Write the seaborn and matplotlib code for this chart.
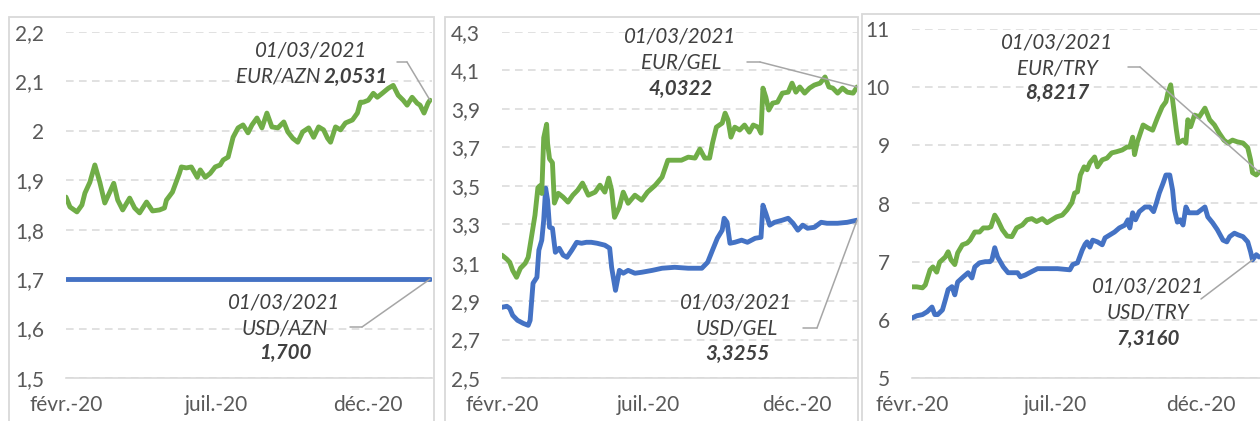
import numpy as np
import pandas as pd
import matplotlib
matplotlib.use("Agg")
import matplotlib.pyplot as plt
import matplotlib.dates as mdates
from matplotlib.ticker import FixedLocator, FuncFormatter
from matplotlib.patches import Rectangle, ConnectionPatch
from matplotlib.lines import Line2D
import seaborn as sns

START = pd.Timestamp("2020-02-01")

# --- AZN (jours depuis le 01/02/2020) ---
azn_eur_days = [0, 4, 11, 16, 19, 24, 29, 34, 39, 44, 48, 52, 57, 64, 69, 74, 81, 87, 94, 99,
                101, 107, 114, 116, 121, 126, 132, 135, 140, 145, 150, 155, 158, 163, 168, 173, 178, 183, 187, 192,
                197, 202, 207, 213, 219, 223, 228, 233, 238, 244, 249, 254, 259, 263, 266, 271, 276, 281, 288, 293,
                296, 299, 304, 309, 313, 318, 324, 329, 334, 339, 343, 348, 353, 356, 360, 364, 366]
azn_eur = [1.866, 1.846, 1.836, 1.85, 1.874, 1.896, 1.931, 1.896, 1.854, 1.876,
           1.894, 1.86, 1.84, 1.864, 1.844, 1.834, 1.856, 1.838, 1.84, 1.844,
           1.86, 1.876, 1.914, 1.927, 1.925, 1.927, 1.906, 1.921, 1.906, 1.914,
           1.927, 1.931, 1.941, 1.947, 1.987, 2.006, 2.012, 1.996, 2.012, 2.026,
           2.006, 2.036, 2.008, 2.006, 2.018, 1.998, 1.985, 1.977, 1.998, 2.006,
           1.987, 2.008, 2.002, 1.985, 1.977, 2.008, 2.002, 2.016, 2.022, 2.036,
           2.058, 2.058, 2.062, 2.076, 2.068, 2.076, 2.086, 2.092, 2.072, 2.062,
           2.052, 2.068, 2.056, 2.052, 2.036, 2.056, 2.062]
azn_usd_days = [0, 366]
azn_usd = [1.70, 1.70]

# --- GEL ---
gel_eur_days = [0, 5, 8, 11, 15, 19, 24, 27, 31, 34, 37, 39, 41, 43, 46, 47, 49, 52, 54, 58,
                63, 68, 73, 78, 83, 89, 96, 101, 106, 110, 113, 116, 121, 125, 130, 137, 144, 150, 158, 165,
                171, 178, 185, 192, 199, 204, 209, 214, 217, 221, 227, 230, 233, 236, 240, 245, 250, 255, 259, 264,
                267, 269, 272, 275, 279, 284, 289, 295, 299, 303, 307, 312, 317, 322, 328, 333, 337, 341, 346, 351,
                356, 362, 366]
gel_eur = [3.139, 3.118, 3.102, 3.060, 3.024, 3.071, 3.097, 3.128, 3.253, 3.347,
           3.49, 3.50, 3.46, 3.75, 3.82, 3.72, 3.64, 3.62, 3.41, 3.461,
           3.441, 3.415, 3.451, 3.477, 3.514, 3.451, 3.467, 3.503, 3.467, 3.540,
           3.477, 3.336, 3.389, 3.467, 3.409, 3.451, 3.425, 3.467, 3.503, 3.545,
           3.633, 3.633, 3.633, 3.649, 3.644, 3.691, 3.644, 3.644, 3.722, 3.805,
           3.826, 3.878, 3.842, 3.753, 3.805, 3.790, 3.816, 3.779, 3.816, 3.805,
           3.774, 4.008, 3.961, 3.894, 3.930, 3.935, 3.982, 3.987, 4.034, 3.987,
           4.014, 3.982, 4.008, 4.024, 4.034, 4.066, 4.014, 4.008, 3.982, 4.008,
           3.987, 3.982, 4.014]
gel_usd_days = [0, 5, 8, 11, 16, 22, 27, 29, 32, 36, 38, 41, 43, 45, 47, 49, 52, 55, 59, 63,
                67, 72, 77, 82, 87, 92, 98, 106, 111, 113, 117, 121, 125, 130, 137, 144, 155, 165, 178, 192,
                206, 212, 217, 222, 227, 229, 232, 235, 240, 247, 253, 261, 267, 269, 272, 276, 281, 289, 295, 300,
                305, 310, 315, 322, 329, 335, 346, 356, 366]
gel_usd = [2.868, 2.873, 2.862, 2.826, 2.800, 2.784, 2.774, 2.800, 2.993, 3.024,
           3.165, 3.217, 3.321, 3.488, 3.425, 3.284, 3.279, 3.154, 3.175, 3.139,
           3.128, 3.165, 3.206, 3.201, 3.206, 3.206, 3.201, 3.191, 3.175, 3.076,
           2.956, 3.060, 3.045, 3.060, 3.045, 3.050, 3.060, 3.071, 3.076, 3.071,
           3.071, 3.102, 3.165, 3.227, 3.269, 3.331, 3.310, 3.201, 3.206, 3.217,
           3.206, 3.227, 3.232, 3.399, 3.357, 3.295, 3.310, 3.321, 3.331, 3.305,
           3.269, 3.295, 3.279, 3.284, 3.310, 3.305, 3.305, 3.310, 3.321]

# --- TRY ---
try_eur_days = [0, 5, 11, 14, 19, 22, 26, 29, 35, 38, 41, 45, 48, 53, 58, 61, 66, 71, 75, 80,
                83, 87, 90, 95, 100, 105, 110, 116, 121, 126, 131, 137, 142, 147, 152, 158, 163, 168, 171, 174,
                177, 181, 184, 187, 192, 195, 200, 205, 210, 215, 221, 226, 229, 232, 234, 237, 243, 248, 253, 258,
                263, 267, 269, 272, 274, 278, 280, 285, 288, 290, 293, 297, 302, 308, 313, 318, 323, 328, 332, 337,
                342, 348, 353, 356, 358, 362, 365]
try_eur = [6.567, 6.567, 6.55, 6.60, 6.86, 6.91, 6.82, 6.99, 7.08, 7.17,
           7.03, 6.95, 7.15, 7.29, 7.32, 7.37, 7.51, 7.51, 7.58, 7.58,
           7.60, 7.80, 7.72, 7.55, 7.44, 7.43, 7.58, 7.63, 7.72, 7.74,
           7.69, 7.74, 7.67, 7.72, 7.77, 7.80, 7.89, 8.01, 8.18, 8.20,
           8.49, 8.63, 8.58, 8.70, 8.80, 8.63, 8.75, 8.78, 8.87, 8.89,
           8.92, 8.97, 8.97, 9.14, 8.84, 9.06, 9.35, 9.30, 9.26, 9.47,
           9.66, 9.75, 9.90, 10.04, 9.78, 9.26, 9.04, 9.09, 9.04, 9.44,
           9.32, 9.52, 9.49, 9.64, 9.44, 9.35, 9.21, 9.09, 9.04, 9.09,
           9.06, 9.04, 8.96, 8.75, 8.53, 8.49, 8.54]
try_usd_days = [0, 5, 11, 16, 21, 24, 27, 32, 35, 38, 42, 45, 48, 54, 59, 63, 66, 71, 77, 82,
                84, 87, 90, 96, 101, 106, 111, 114, 119, 126, 132, 143, 153, 166, 169, 174, 179,
                182, 184, 187, 190, 195, 200, 203, 208, 213, 218, 224, 227, 229, 232, 235, 239, 245, 250, 254, 257,
                260, 264, 267, 271, 274, 276, 279, 282, 285, 288, 291, 295, 300, 308, 311, 316, 321, 327, 331, 334,
                339, 343, 348, 353, 356, 358, 362, 365]
try_usd = [6.03, 6.07, 6.09, 6.14, 6.22, 6.09, 6.09, 6.17, 6.34, 6.52,
           6.57, 6.43, 6.65, 6.74, 6.81, 6.72, 6.91, 6.98, 7.00, 7.00,
           7.03, 7.24, 7.08, 6.91, 6.81, 6.81, 6.81, 6.74, 6.77, 6.83,
           6.88, 6.88, 6.88, 6.86, 6.95, 6.98, 7.20,
           7.30, 7.34, 7.25, 7.37, 7.34, 7.29, 7.41, 7.46, 7.51, 7.58,
           7.63, 7.72, 7.58, 7.84, 7.72, 7.86, 7.94, 7.94, 7.86, 8.01,
           8.18, 8.35, 8.49, 8.49, 8.23, 7.89, 7.68, 7.72, 7.63, 7.94,
           7.84, 7.84, 7.84, 7.94, 7.77, 7.67, 7.55, 7.37, 7.34, 7.43,
           7.49, 7.46, 7.43, 7.34, 7.17, 7.03, 7.12, 7.08]

tick_dates = ["2020-02-01", "2020-07-01", "2020-12-01"]
tick_labels = ["févr.-20", "juil.-20", "déc.-20"]

GREEN = "#70AD47"
BLUE = "#4472C4"
GRID = "#D9D9D9"
TXT = "#595959"
ANN = "#404040"
LEAD = "#A6A6A6"

sns.set_style("white")
plt.rcParams["font.family"] = ["Lato", "DejaVu Sans"]

W, H = 1260, 421
fig = plt.figure(figsize=(W / 100, H / 100), dpi=100)


def fx(px):
    return px / W


def fy(py):
    return 1 - py / H


def to_dates(days):
    return START + pd.to_timedelta(days, unit="D")


def comma(v, pos):
    return f"{round(v, 2):g}".replace(".", ",")


def panel(left, right, top, yticks, series, xmax_days):
    ax = fig.add_axes([fx(left), fy(378), fx(right - left), (378 - top) / H])
    for days, vals, col in series:
        sns.lineplot(x=to_dates(days), y=vals, ax=ax, color=col, linewidth=3.5,
                     solid_capstyle="round", solid_joinstyle="round")
    ax.set_xlim(START, START + pd.Timedelta(days=xmax_days))
    ax.set_ylim(yticks[0], yticks[-1])
    ax.yaxis.set_major_locator(FixedLocator(yticks))
    ax.yaxis.set_major_formatter(FuncFormatter(comma))
    ax.xaxis.set_major_locator(FixedLocator(mdates.date2num(pd.to_datetime(tick_dates))))
    ax.set_xticklabels(tick_labels)
    ax.set_xlabel("")
    ax.set_ylabel("")
    ax.yaxis.grid(True, color=GRID, linewidth=1.1, linestyle=(0, (5, 3.5)))
    ax.xaxis.grid(False)
    for s in ["left", "right", "top"]:
        ax.spines[s].set_visible(False)
    ax.spines["bottom"].set_color(GRID)
    ax.spines["bottom"].set_linewidth(1.2)
    ax.tick_params(axis="y", length=0, pad=16, labelsize=15, labelcolor=TXT)
    ax.tick_params(axis="x", length=5, width=1.2, color=GRID, pad=7,
                   labelsize=15, labelcolor=TXT, direction="out")
    ax.set_facecolor("none")
    return ax


ax1 = panel(66, 432, 32, np.round(np.arange(1.5, 2.21, 0.1), 1),
            [(azn_eur_days, azn_eur, GREEN), (azn_usd_days, azn_usd, BLUE)], 368)
ax2 = panel(502, 858, 32, np.round(np.arange(2.5, 4.31, 0.2), 1),
            [(gel_usd_days, gel_usd, BLUE), (gel_eur_days, gel_eur, GREEN)], 367)
ax3 = panel(912, 1262, 29, np.arange(5, 12, 1),
            [(try_usd_days, try_usd, BLUE), (try_eur_days, try_eur, GREEN)], 368)

# cadres des graphiques
for l, r, t in [(9, 434, 17), (445, 858, 17), (862, 1275, 14)]:
    fig.add_artist(Rectangle((fx(l), fy(440)), fx(r - l), (440 - t) / H,
                             transform=fig.transFigure, fill=False,
                             edgecolor=GRID, linewidth=1.3))


def label(x, y, s, bold=False, ha="center"):
    fig.text(fx(x), fy(y), s, ha=ha, va="center", fontsize=14.8, style="italic",
             weight="bold" if bold else "normal", color=ANN)


def leader(pts, ax, day, val):
    xs = [fx(p[0]) for p in pts]
    ys = [fy(p[1]) for p in pts]
    if len(pts) > 1:
        fig.add_artist(Line2D(xs, ys, transform=fig.transFigure, color=LEAD, lw=1.1))
    con = ConnectionPatch(xyA=(xs[-1], ys[-1]), coordsA=fig.transFigure,
                          xyB=(mdates.date2num(to_dates([day])[0]), val), coordsB=ax.transData,
                          color=LEAD, lw=1.1)
    fig.add_artist(con)


# AZN
label(311, 50, "01/03/2021")
label(320, 77, "EUR/AZN", ha="right")
label(324, 77, "2,0531", bold=True, ha="left")
leader([(397, 62), (407, 62)], ax1, azn_eur_days[-1], azn_eur[-1])
label(284, 302, "01/03/2021")
label(285, 328, "USD/AZN")
label(285, 353, "1,700", bold=True)
leader([(350, 327), (362, 327)], ax1, azn_usd_days[-1], azn_usd[-1])

# GEL
label(680, 36, "01/03/2021")
label(681, 63, "EUR/GEL")
label(681, 89, "4,0322", bold=True)
leader([(747, 62), (760, 62)], ax2, gel_eur_days[-1], gel_eur[-1])
label(736, 303, "01/03/2021")
label(737, 328, "USD/GEL")
label(737, 354, "3,3255", bold=True)
leader([(803, 328), (817, 328)], ax2, gel_usd_days[-1], gel_usd[-1])

# TRY
label(1057, 42, "01/03/2021")
label(1057, 68, "EUR/TRY")
label(1057, 93, "8,8217", bold=True)
leader([(1128, 67), (1140, 67)], ax3, try_eur_days[-1], try_eur[-1])
label(1148, 287, "01/03/2021")
label(1148, 313, "USD/TRY")
label(1148, 339, "7,3160", bold=True)
leader([(1201, 299)], ax3, try_usd_days[-3], try_usd[-3])

fig.savefig("out.png", dpi=100)
